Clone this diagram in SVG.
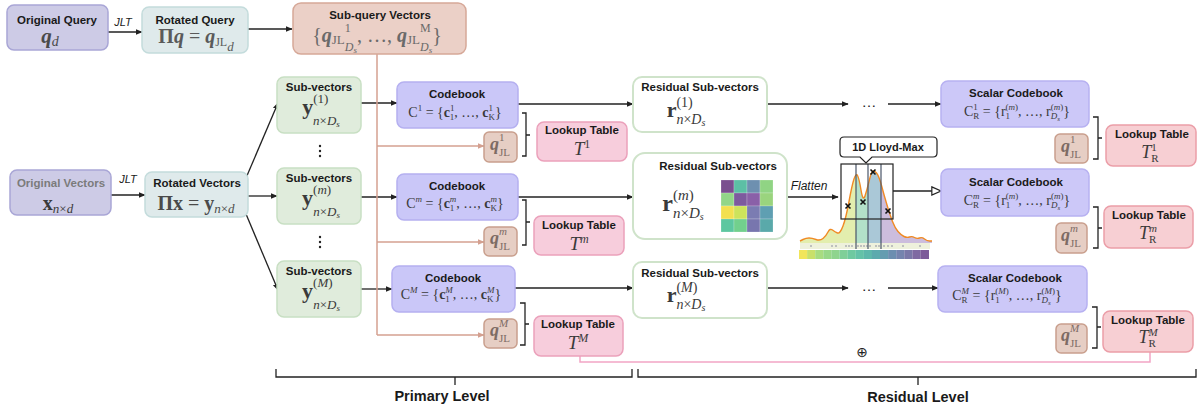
<svg xmlns="http://www.w3.org/2000/svg" width="1198" height="411" viewBox="0 0 1198 411">
<defs>
<style>
.oq{fill:#cdcbe6;stroke:#a9a6d6;stroke-width:1.5}
.rq{fill:#dfeaeb;stroke:#c4dcdc;stroke-width:1.5}
.sq{fill:#ebd0c7;stroke:#d6a898;stroke-width:1.5}
.sv{fill:#e0ecdc;stroke:#c8dfc3;stroke-width:1.5}
.cb{fill:#cac7f8;stroke:#b5b0f0;stroke-width:1.5}
.qj{fill:#e6cec4;stroke:#c99f8d;stroke-width:1.5}
.lt{fill:#f7cddc;stroke:#eba1bb;stroke-width:1.5}
.ltr{fill:#f7cfd3;stroke:#eb9ea8;stroke-width:1.5}
.rs{fill:#ffffff;stroke:#cfe3ca;stroke-width:2}
.sc{fill:#ccc8f8;stroke:#b7b1f1;stroke-width:1.5}
.ti{font-family:"Liberation Sans","Open Sans",Arial,sans-serif;font-weight:bold;font-size:11.5px;fill:#1a1a1a;text-anchor:middle}
.lb{font-family:"Liberation Sans","Open Sans",Arial,sans-serif;font-style:italic;font-size:11px;fill:#1a1a1a;text-anchor:middle}
.m{font-family:"Liberation Serif","DejaVu Serif",serif;fill:#3a3a3a;text-anchor:middle}
.qm{font-family:"Liberation Serif","DejaVu Serif",serif;fill:#7d6b64;text-anchor:middle;font-size:18px}
.bi{font-weight:bold;font-style:italic}
.b{font-weight:bold}
.i{font-style:italic}
.ln{fill:none;stroke:#222;stroke-width:1.3}
.sl{fill:none;stroke:#d4a090;stroke-width:1.5}
.br{fill:none;stroke:#222;stroke-width:1.3}
</style>
<marker id="ah" viewBox="0 0 10 10" refX="9" refY="5" markerWidth="7" markerHeight="7" markerUnits="userSpaceOnUse" orient="auto"><path d="M0,1 L10,5 L0,9 z" fill="#222"/></marker>
<marker id="as" viewBox="0 0 10 10" refX="9" refY="5" markerWidth="7" markerHeight="7" markerUnits="userSpaceOnUse" orient="auto"><path d="M0,1 L10,5 L0,9 z" fill="#d4a090"/></marker>
<marker id="ao" viewBox="0 0 12 12" refX="11" refY="6" markerWidth="11" markerHeight="11" markerUnits="userSpaceOnUse" orient="auto"><path d="M1,1.5 L11,6 L1,10.5 z" fill="#fff" stroke="#222" stroke-width="1.3"/></marker>
<clipPath id="curveClip"><path d="M800,241 L803,239.5 Q806,238 809,238 Q812,238 816,239.5 Q820,241 823,238.5 Q826,236 828,232 Q830,228 832.5,230 Q835,232 837.5,233 Q840,234 843,226 Q846,218 849,201.5 Q852,185 854,179 Q856,173 857.5,175.5 Q859,178 861,190 Q863,202 865,196 Q867,190 869,181.5 Q871,173 872.5,171.5 Q874,170 876.5,173 Q879,176 881.5,185.5 Q884,195 887,205 Q890,215 892.5,221.5 Q895,228 898,231.5 Q901,235 904,236.5 Q907,238 909.5,237 Q912,236 914.5,237.5 Q917,239 919.5,238 Q922,237 924.5,239 Q927,241 929.5,241 L932,241 L932,243 L800,243 Z"/></clipPath>
</defs>
<rect width="1198" height="411" fill="#ffffff"/>

<g id="connectors">
<line class="ln" x1="108" y1="32" x2="142" y2="32" marker-end="url(#ah)"/>
<line class="ln" x1="248" y1="29" x2="292" y2="29" marker-end="url(#ah)"/>
<line class="ln" x1="111" y1="195" x2="145" y2="195" marker-end="url(#ah)"/>
<line class="ln" x1="246" y1="178" x2="278" y2="103" marker-end="url(#ah)"/>
<line class="ln" x1="248" y1="196" x2="277" y2="196" marker-end="url(#ah)"/>
<line class="ln" x1="246" y1="214" x2="278" y2="290" marker-end="url(#ah)"/>
<line class="ln" x1="361" y1="103" x2="397" y2="103" marker-end="url(#ah)"/>
<line class="ln" x1="361" y1="197" x2="397" y2="197" marker-end="url(#ah)"/>
<line class="ln" x1="361" y1="289" x2="392" y2="289" marker-end="url(#ah)"/>
<line class="ln" x1="518" y1="104" x2="633" y2="104" marker-end="url(#ah)"/>
<line class="ln" x1="518" y1="197" x2="633" y2="197" marker-end="url(#ah)"/>
<line class="ln" x1="515" y1="288" x2="633" y2="288" marker-end="url(#ah)"/>
<line class="ln" x1="767" y1="104" x2="848" y2="104" marker-end="url(#ah)"/>
<line class="ln" x1="888" y1="104" x2="941" y2="104" marker-end="url(#ah)"/>
<line class="ln" x1="787" y1="197" x2="838" y2="197" marker-end="url(#ah)"/>
<line class="ln" x1="893" y1="191" x2="941" y2="191" style="stroke-width:1.5" marker-end="url(#ao)"/>
<line class="ln" x1="767" y1="288" x2="848" y2="288" marker-end="url(#ah)"/>
<line class="ln" x1="888" y1="288" x2="938" y2="288" marker-end="url(#ah)"/>
<text x="869" y="107" font-family="Liberation Sans, Arial, sans-serif" font-size="15" text-anchor="middle" fill="#222">…</text>
<text x="869" y="291" font-family="Liberation Sans, Arial, sans-serif" font-size="15" text-anchor="middle" fill="#222">…</text>
<text class="lb" x="123" y="26">JLT</text>
<text class="lb" x="128" y="183">JLT</text>
<text class="lb" x="809" y="190" style="font-size:12px">Flatten</text>
<path class="sl" d="M377,54 V335"/>
<line class="sl" x1="377" y1="146" x2="484" y2="146" marker-end="url(#as)"/>
<line class="sl" x1="377" y1="242" x2="484" y2="242" marker-end="url(#as)"/>
<line class="sl" x1="377" y1="335" x2="484" y2="335" marker-end="url(#as)"/>
<path class="br" d="M522,113 H526 V156 H522 M526,135 H530"/>
<path class="br" d="M522,200 H526 V245 H522 M526,222 H530"/>
<path class="br" d="M520,303 H525 V345 H520 M525,324 H529"/>
<path class="br" d="M1093,117 H1098 V159 H1093 M1098,138 H1102"/>
<path class="br" d="M1093,207 H1098 V248 H1093 M1098,228 H1102"/>
<path class="br" d="M1092,307 H1097 V348 H1092 M1097,327 H1101"/>
<path d="M580,356 V362 H1150 V352" fill="none" stroke="#f2a5c5" stroke-width="1.5"/>
<text x="862" y="357" font-family="DejaVu Sans, sans-serif" font-size="14" text-anchor="middle" fill="#222">⊕</text>
<path class="br" d="M276,369 V377 H632 V369 M455,377 V385"/>
<path class="br" d="M638,369 V377 H1196 V369 M918,377 V385"/>
<text class="ti" x="442" y="401" style="font-size:14.5px">Primary Level</text>
<text class="ti" x="918" y="402" style="font-size:14.5px">Residual Level</text>
</g>

<g id="original-query">
<rect class="oq" x="7" y="5" width="101" height="45" rx="7"/>
<text class="ti" x="57" y="24">Original Query</text>
<text class="m" x="50" y="43" font-size="21" style="fill:#4a4a4a"><tspan class="bi">q</tspan><tspan class="i" font-size="14" dy="3">d</tspan></text>
</g>

<g id="rotated-query">
<rect class="rq" x="142" y="7" width="106" height="46" rx="7"/>
<text class="ti" x="195" y="24">Rotated Query</text>
<text class="m" x="196" y="43" font-size="20" style="fill:#5a5a5a"><tspan class="b">Π</tspan><tspan class="bi">q</tspan> = <tspan class="bi">q</tspan><tspan font-size="12" dy="3">JL</tspan><tspan class="i" font-size="13" dy="5">d</tspan></text>
</g>

<g id="sub-query-vectors">
<rect class="sq" x="293" y="3" width="173" height="51" rx="8"/>
<text class="ti" x="380" y="19">Sub-query Vectors</text>
<text class="m" x="377" y="42" font-size="20" style="fill:#6a6a6a">{<tspan class="bi">q</tspan><tspan font-size="13" dy="2">JL</tspan><tspan font-size="12" dy="-12">1</tspan><tspan font-size="12" class="i" dx="-6" dy="19">D</tspan><tspan font-size="9" class="i" dy="2">s</tspan><tspan dy="-11">, …, </tspan><tspan class="bi">q</tspan><tspan font-size="13" dy="2">JL</tspan><tspan font-size="12" dy="-12">M</tspan><tspan font-size="12" class="i" dx="-10.7" dy="19">D</tspan><tspan font-size="9" class="i" dy="2">s</tspan><tspan dy="-11">}</tspan></text>
</g>

<g id="original-vectors">
<rect class="oq" x="10" y="170" width="101" height="45" rx="7"/>
<text class="ti" x="61" y="187" style="fill:#7b7b7b">Original Vectors</text>
<text class="m" x="58" y="210" font-size="20"><tspan class="b">x</tspan><tspan class="i" font-size="13" dy="3">n</tspan><tspan font-size="13">×</tspan><tspan class="i" font-size="13">d</tspan></text>
</g>

<g id="rotated-vectors">
<rect class="rq" x="145" y="172" width="103" height="45" rx="7"/>
<text class="ti" x="197" y="187">Rotated Vectors</text>
<text class="m" x="196" y="210" font-size="20" style="fill:#4a4a4a"><tspan class="b">Πx</tspan> = <tspan class="b">y</tspan><tspan class="i" font-size="13" dy="3">n</tspan><tspan font-size="13">×</tspan><tspan class="i" font-size="13">d</tspan></text>
</g>

<g id="sub-vectors-1">
<rect class="sv" x="277" y="77" width="84" height="56" rx="7"/>
<text class="ti" x="319" y="91">Sub-vectors</text>
<text class="m" x="321" y="114" font-size="22"><tspan class="b">y</tspan><tspan font-size="13" dy="-11">(1)</tspan><tspan font-size="13" class="i" dx="-15.2" dy="22">n</tspan><tspan font-size="13">×</tspan><tspan font-size="13" class="i">D</tspan><tspan font-size="9" class="i" dy="2">s</tspan></text>
</g>
<g id="vdots-1"><circle cx="320" cy="146" r="1.2" fill="#222"/><circle cx="320" cy="151" r="1.2" fill="#222"/><circle cx="320" cy="156" r="1.2" fill="#222"/></g>
<g id="sub-vectors-m">
<rect class="sv" x="277" y="168" width="84" height="56" rx="7"/>
<text class="ti" x="319" y="182">Sub-vectors</text>
<text class="m" x="321" y="205" font-size="22"><tspan class="b">y</tspan><tspan font-size="13" dy="-11">(<tspan class="i">m</tspan>)</tspan><tspan font-size="13" class="i" dx="-18" dy="22">n</tspan><tspan font-size="13">×</tspan><tspan font-size="13" class="i">D</tspan><tspan font-size="9" class="i" dy="2">s</tspan></text>
</g>
<g id="vdots-2"><circle cx="320" cy="237" r="1.2" fill="#222"/><circle cx="320" cy="242" r="1.2" fill="#222"/><circle cx="320" cy="247" r="1.2" fill="#222"/></g>
<g id="sub-vectors-M">
<rect class="sv" x="277" y="261" width="84" height="56" rx="7"/>
<text class="ti" x="319" y="275">Sub-vectors</text>
<text class="m" x="321" y="298" font-size="22"><tspan class="b">y</tspan><tspan font-size="13" dy="-11">(<tspan class="i">M</tspan>)</tspan><tspan font-size="13" class="i" dx="-19.5" dy="22">n</tspan><tspan font-size="13">×</tspan><tspan font-size="13" class="i">D</tspan><tspan font-size="9" class="i" dy="2">s</tspan></text>
</g>

<g id="codebook-1">
<rect class="cb" x="397" y="82" width="121" height="46" rx="7"/>
<text class="ti" x="457" y="98">Codebook</text>
<text class="m" x="455" y="117" font-size="14">C<tspan font-size="9" dy="-6">1</tspan><tspan dy="6"> = {</tspan><tspan class="b">c</tspan><tspan font-size="9" dy="-6">1</tspan><tspan font-size="9" dx="-4.5" dy="9">1</tspan><tspan dy="-3">, …, </tspan><tspan class="b">c</tspan><tspan font-size="9" dy="-6">1</tspan><tspan font-size="9" dx="-4.5" dy="9">K</tspan><tspan dy="-3">}</tspan></text>
</g>
<g id="codebook-m">
<rect class="cb" x="397" y="174" width="121" height="46" rx="7"/>
<text class="ti" x="457" y="190">Codebook</text>
<text class="m" x="455" y="208" font-size="14">C<tspan font-size="9" class="i" dy="-6">m</tspan><tspan dy="6"> = {</tspan><tspan class="b">c</tspan><tspan font-size="9" class="i" dy="-6">m</tspan><tspan font-size="9" dx="-6.5" dy="9">1</tspan><tspan dx="2" dy="-3">, …, </tspan><tspan class="b">c</tspan><tspan font-size="9" class="i" dy="-6">m</tspan><tspan font-size="9" dx="-6.5" dy="9">K</tspan><tspan dy="-3">}</tspan></text>
</g>
<g id="codebook-M">
<rect class="cb" x="392" y="266" width="123" height="46" rx="7"/>
<text class="ti" x="453" y="282">Codebook</text>
<text class="m" x="451" y="299" font-size="14">C<tspan font-size="9" class="i" dy="-6">M</tspan><tspan dy="6"> = {</tspan><tspan class="b">c</tspan><tspan font-size="9" class="i" dy="-6">M</tspan><tspan font-size="9" dx="-7.5" dy="9">1</tspan><tspan dx="3" dy="-3">, …, </tspan><tspan class="b">c</tspan><tspan font-size="9" class="i" dy="-6">M</tspan><tspan font-size="9" dx="-7.5" dy="9">K</tspan><tspan dx="1" dy="-3">}</tspan></text>
</g>

<g id="qjl-1">
<rect class="qj" x="484" y="132" width="33" height="30" rx="5"/>
<text class="qm" x="500" y="150"><tspan class="bi">q</tspan><tspan font-size="11" dy="-9">1</tspan><tspan font-size="11" dx="-5.5" dy="15">JL</tspan></text>
</g>
<g id="qjl-m">
<rect class="qj" x="484" y="227" width="33" height="29" rx="5"/>
<text class="qm" x="500" y="244"><tspan class="bi">q</tspan><tspan font-size="11" class="i" dy="-9">m</tspan><tspan font-size="11" dx="-8" dy="15">JL</tspan></text>
</g>
<g id="qjl-M">
<rect class="qj" x="484" y="319" width="33" height="29" rx="5"/>
<text class="qm" x="500" y="336"><tspan class="bi">q</tspan><tspan font-size="11" class="i" dy="-9">M</tspan><tspan font-size="11" dx="-9.2" dy="15">JL</tspan></text>
</g>

<g id="lookup-1">
<rect class="lt" x="537" y="122" width="90" height="39" rx="7"/>
<text class="ti" x="582" y="134">Lookup Table</text>
<text class="m" x="582" y="155" font-size="19"><tspan class="i">T</tspan><tspan font-size="12" dy="-7">1</tspan></text>
</g>
<g id="lookup-m">
<rect class="lt" x="534" y="216" width="90" height="39" rx="7"/>
<text class="ti" x="579" y="229">Lookup Table</text>
<text class="m" x="579" y="250" font-size="19"><tspan class="i">T</tspan><tspan font-size="12" class="i" dy="-7">m</tspan></text>
</g>
<g id="lookup-M">
<rect class="lt" x="534" y="316" width="89" height="40" rx="7"/>
<text class="ti" x="578" y="328">Lookup Table</text>
<text class="m" x="578" y="349" font-size="19"><tspan class="i">T</tspan><tspan font-size="12" class="i" dy="-7">M</tspan></text>
</g>

<g id="residual-1">
<rect class="rs" x="633" y="77" width="134" height="55" rx="9"/>
<text class="ti" x="700" y="91">Residual Sub-vectors</text>
<text class="m" x="686" y="117" font-size="22"><tspan class="b">r</tspan><tspan font-size="14" dy="-10">(1)</tspan><tspan font-size="14" class="i" dx="-16.3" dy="17">n</tspan><tspan font-size="14">×</tspan><tspan font-size="14" class="i">D</tspan><tspan font-size="10" class="i" dy="2">s</tspan></text>
</g>
<g id="residual-m">
<rect class="rs" x="633" y="153" width="154" height="86" rx="12"/>
<text class="ti" x="718" y="170">Residual Sub-vectors</text>
<text class="m" x="683" y="211" font-size="24"><tspan class="b">r</tspan><tspan font-size="15" dy="-11">(<tspan class="i">m</tspan>)</tspan><tspan font-size="15" class="i" dx="-20.8" dy="18">n</tspan><tspan font-size="15">×</tspan><tspan font-size="15" class="i">D</tspan><tspan font-size="10" class="i" dy="2">s</tspan></text>
<g id="heatmap" stroke="#ffffff" stroke-width="0.4" stroke-opacity="0.5">
<rect x="721" y="180" width="13" height="13" fill="#7a4f8f"/><rect x="734" y="180" width="13" height="13" fill="#5cbfa5"/><rect x="747" y="180" width="13" height="13" fill="#6e90b0"/><rect x="760" y="180" width="13" height="13" fill="#90d484"/>
<rect x="721" y="193" width="13" height="13" fill="#92d688"/><rect x="734" y="193" width="13" height="13" fill="#7d5a9e"/><rect x="747" y="193" width="13" height="13" fill="#8a60a8"/><rect x="760" y="193" width="13" height="13" fill="#9ad47e"/>
<rect x="721" y="206" width="13" height="13" fill="#f3e04f"/><rect x="734" y="206" width="13" height="13" fill="#cde35b"/><rect x="747" y="206" width="13" height="13" fill="#7b7cb2"/><rect x="760" y="206" width="13" height="13" fill="#5f9fb2"/>
<rect x="721" y="219" width="13" height="13" fill="#5dc7a0"/><rect x="734" y="219" width="13" height="13" fill="#72d08d"/><rect x="747" y="219" width="13" height="13" fill="#7876ae"/><rect x="760" y="219" width="13" height="13" fill="#5aa9aa"/>
</g>
</g>
<g id="residual-M">
<rect class="rs" x="633" y="262" width="134" height="56" rx="9"/>
<text class="ti" x="700" y="277">Residual Sub-vectors</text>
<text class="m" x="686" y="302" font-size="22"><tspan class="b">r</tspan><tspan font-size="14" dy="-10">(<tspan class="i">M</tspan>)</tspan><tspan font-size="14" class="i" dx="-21" dy="17">n</tspan><tspan font-size="14">×</tspan><tspan font-size="14" class="i">D</tspan><tspan font-size="10" class="i" dy="2">s</tspan></text>
</g>

<g id="lloyd-max">
<g clip-path="url(#curveClip)" opacity="0.85">
<rect x="798" y="160" width="58" height="90" fill="#dfeca0"/>
<rect x="856" y="160" width="12" height="90" fill="#a6dcc0"/>
<rect x="868" y="160" width="13" height="90" fill="#9cbfd0"/>
<rect x="881" y="160" width="53" height="90" fill="#c3b2d8"/>
</g>
<path d="M800,241 L803,239.5 Q806,238 809,238 Q812,238 816,239.5 Q820,241 823,238.5 Q826,236 828,232 Q830,228 832.5,230 Q835,232 837.5,233 Q840,234 843,226 Q846,218 849,201.5 Q852,185 854,179 Q856,173 857.5,175.5 Q859,178 861,190 Q863,202 865,196 Q867,190 869,181.5 Q871,173 872.5,171.5 Q874,170 876.5,173 Q879,176 881.5,185.5 Q884,195 887,205 Q890,215 892.5,221.5 Q895,228 898,231.5 Q901,235 904,236.5 Q907,238 909.5,237 Q912,236 914.5,237.5 Q917,239 919.5,238 Q922,237 924.5,239 Q927,241 929.5,241 L932,241" fill="none" stroke="#f08a24" stroke-width="1.4"/>
<rect x="800" y="243" width="130" height="6" fill="#eef1dc"/>
<g fill="#6a6a8a">
<circle cx="811" cy="246" r="0.7"/><circle cx="832" cy="246" r="0.7"/><circle cx="836" cy="246" r="0.7"/><circle cx="846" cy="246" r="0.7"/><circle cx="849" cy="246" r="0.7"/><circle cx="852" cy="246" r="0.7"/><circle cx="858" cy="246" r="0.7"/><circle cx="861" cy="246" r="0.7"/><circle cx="864" cy="246" r="0.7"/><circle cx="867" cy="246" r="0.7"/><circle cx="870" cy="246" r="0.7"/><circle cx="876" cy="246" r="0.7"/><circle cx="879" cy="246" r="0.7"/><circle cx="884" cy="246" r="0.7"/><circle cx="888" cy="246" r="0.7"/><circle cx="892" cy="246" r="0.7"/><circle cx="903" cy="246" r="0.7"/><circle cx="920" cy="246" r="0.7"/>
</g>
<g id="colorbar">
<rect x="799" y="250" width="8.2" height="9" fill="#f1e55a"/><rect x="807.1" y="250" width="8.2" height="9" fill="#c9e06a"/><rect x="815.2" y="250" width="8.2" height="9" fill="#a8dc80"/><rect x="823.3" y="250" width="8.2" height="9" fill="#98d888"/><rect x="831.4" y="250" width="8.2" height="9" fill="#8fd48e"/><rect x="839.5" y="250" width="8.2" height="9" fill="#7fcf98"/><rect x="847.6" y="250" width="8.2" height="9" fill="#6ec9a0"/><rect x="855.7" y="250" width="8.2" height="9" fill="#64c2a8"/><rect x="863.8" y="250" width="8.2" height="9" fill="#5eb8ab"/><rect x="871.9" y="250" width="8.2" height="9" fill="#5caaad"/><rect x="880" y="250" width="8.2" height="9" fill="#649cb0"/><rect x="888.1" y="250" width="8.2" height="9" fill="#6c8eb0"/><rect x="896.2" y="250" width="8.2" height="9" fill="#7584ae"/><rect x="904.3" y="250" width="8.2" height="9" fill="#7a78a8"/><rect x="912.4" y="250" width="8.2" height="9" fill="#7f6aa2"/><rect x="920.5" y="250" width="8.5" height="9" fill="#7d5c9a"/>
</g>
<g stroke="#4a5568" stroke-width="1.2"><line x1="856" y1="164" x2="856" y2="249"/><line x1="868" y1="164" x2="868" y2="249"/><line x1="881" y1="164" x2="881" y2="249"/></g>
<rect x="841" y="164" width="52" height="55" fill="none" stroke="#222" stroke-width="1.2"/>
<g stroke="#111" stroke-width="1.6">
<path d="M845.5,203.5 L850.5,208.5 M850.5,203.5 L845.5,208.5"/>
<path d="M860.5,199.5 L865.5,204.5 M865.5,199.5 L860.5,204.5"/>
<path d="M870.5,169.5 L875.5,174.5 M875.5,169.5 L870.5,174.5"/>
<path d="M885.5,208.5 L890.5,213.5 M890.5,208.5 L885.5,213.5"/>
</g>
<path d="M844,137 H933 Q937,137 937,141 V153 Q937,157 933,157 H872 L866,163 L860,157 H844 Q840,157 840,153 V141 Q840,137 844,137 Z" fill="#fff" stroke="#222" stroke-width="1.2"/>
<text class="ti" x="888" y="151" style="font-size:11px">1D Lloyd-Max</text>
</g>

<g id="scalar-codebook-1">
<rect class="sc" x="941" y="81" width="148" height="46" rx="7"/>
<text class="ti" x="1016" y="97">Scalar Codebook</text>
<text class="m" x="1017" y="116" font-size="14">C<tspan font-size="9" dy="3">R</tspan><tspan font-size="9" dx="-6" dy="-9">1</tspan><tspan dx="1.5" dy="6"> = {r</tspan><tspan font-size="9" dy="-6">(<tspan class="i">m</tspan>)</tspan><tspan font-size="9" dx="-12.5" dy="9">1</tspan><tspan dx="8" dy="-3">, …, r</tspan><tspan font-size="9" dy="-6">(<tspan class="i">m</tspan>)</tspan><tspan font-size="9" class="i" dx="-12.5" dy="9">D</tspan><tspan font-size="7" class="i" dy="1.5">s</tspan><tspan dx="3.3" dy="-4.5">}</tspan></text>
</g>
<g id="scalar-codebook-m">
<rect class="sc" x="941" y="169" width="148" height="47" rx="7"/>
<text class="ti" x="1016" y="186">Scalar Codebook</text>
<text class="m" x="1017" y="205" font-size="14">C<tspan font-size="9" dy="3">R</tspan><tspan font-size="9" class="i" dx="-6" dy="-9">m</tspan><tspan dy="6"> = {r</tspan><tspan font-size="9" dy="-6">(<tspan class="i">m</tspan>)</tspan><tspan font-size="9" dx="-12.5" dy="9">1</tspan><tspan dx="8" dy="-3">, …, r</tspan><tspan font-size="9" dy="-6">(<tspan class="i">m</tspan>)</tspan><tspan font-size="9" class="i" dx="-12.5" dy="9">D</tspan><tspan font-size="7" class="i" dy="1.5">s</tspan><tspan dx="3.3" dy="-4.5">}</tspan></text>
</g>
<g id="scalar-codebook-M">
<rect class="sc" x="938" y="266" width="149" height="46" rx="7"/>
<text class="ti" x="1015" y="282">Scalar Codebook</text>
<text class="m" x="1007" y="300" font-size="14">C<tspan font-size="9" dy="3">R</tspan><tspan font-size="9" class="i" dx="-6" dy="-9">M</tspan><tspan dy="6"> = {r</tspan><tspan font-size="9" dy="-6">(<tspan class="i">M</tspan>)</tspan><tspan font-size="9" dx="-13.5" dy="9">1</tspan><tspan dx="9" dy="-3">, …, r</tspan><tspan font-size="9" dy="-6">(<tspan class="i">M</tspan>)</tspan><tspan font-size="9" class="i" dx="-13.5" dy="9">D</tspan><tspan font-size="7" class="i" dy="1.5">s</tspan><tspan dx="4.3" dy="-4.5">}</tspan></text>
</g>

<g id="qjl-r1">
<rect class="qj" x="1055" y="134" width="33" height="29" rx="5"/>
<text class="qm" x="1071" y="152"><tspan class="bi">q</tspan><tspan font-size="11" dy="-9">1</tspan><tspan font-size="11" dx="-5.5" dy="15">JL</tspan></text>
</g>
<g id="qjl-rm">
<rect class="qj" x="1056" y="223" width="31" height="30" rx="5"/>
<text class="qm" x="1071" y="241"><tspan class="bi">q</tspan><tspan font-size="11" class="i" dy="-9">m</tspan><tspan font-size="11" dx="-8" dy="15">JL</tspan></text>
</g>
<g id="qjl-rM">
<rect class="qj" x="1056" y="324" width="31" height="29" rx="5"/>
<text class="qm" x="1071" y="341"><tspan class="bi">q</tspan><tspan font-size="11" class="i" dy="-9">M</tspan><tspan font-size="11" dx="-9.2" dy="15">JL</tspan></text>
</g>

<g id="lookup-r1">
<rect class="ltr" x="1106" y="125" width="90" height="41" rx="7"/>
<text class="ti" x="1152" y="138">Lookup Table</text>
<text class="m" x="1150" y="158" font-size="18"><tspan class="i">T</tspan><tspan font-size="11" dy="-7">1</tspan><tspan font-size="11" dx="-5.5" dy="11">R</tspan></text>
</g>
<g id="lookup-rm">
<rect class="ltr" x="1104" y="206" width="89" height="42" rx="7"/>
<text class="ti" x="1149" y="219">Lookup Table</text>
<text class="m" x="1148" y="239" font-size="18"><tspan class="i">T</tspan><tspan font-size="11" class="i" dy="-7">m</tspan><tspan font-size="11" dx="-8" dy="11">R</tspan></text>
</g>
<g id="lookup-rM">
<rect class="ltr" x="1103" y="311" width="90" height="41" rx="7"/>
<text class="ti" x="1148" y="324">Lookup Table</text>
<text class="m" x="1148" y="343" font-size="18"><tspan class="i">T</tspan><tspan font-size="11" class="i" dy="-7">M</tspan><tspan font-size="11" dx="-9.2" dy="11">R</tspan></text>
</g>
</svg>
